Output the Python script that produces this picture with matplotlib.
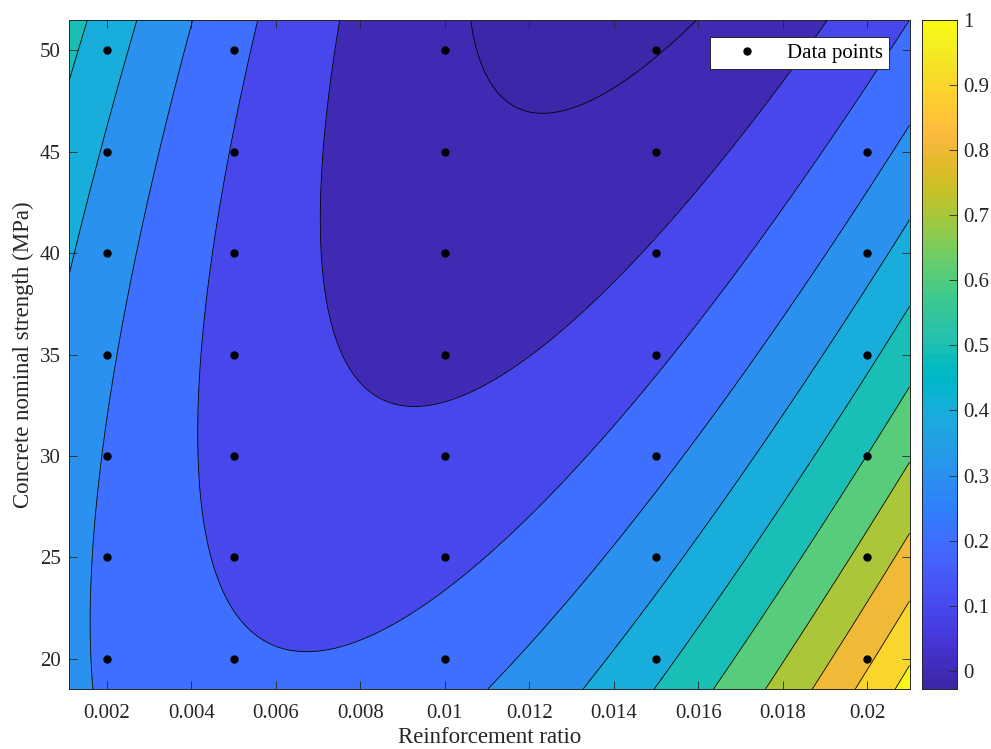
import numpy as np
import matplotlib.pyplot as plt
from matplotlib.colors import ListedColormap, Normalize

plt.rcParams['font.family'] = ['Liberation Serif', 'DejaVu Serif']

# Data: reinforcement ratio, concrete strength and response at the tested points
rho = [0.002, 0.005, 0.01, 0.015,
       0.002, 0.005, 0.01, 0.015, 0.02,
       0.002, 0.005, 0.01, 0.015, 0.02,
       0.002, 0.005, 0.01, 0.015, 0.02,
       0.002, 0.005, 0.01, 0.015, 0.02,
       0.002, 0.005, 0.01, 0.015, 0.02,
       0.002, 0.005, 0.01, 0.015, 0.02]
fc = [50, 50, 50, 50,
      45, 45, 45, 45, 45,
      40, 40, 40, 40, 40,
      35, 35, 35, 35, 35,
      30, 30, 30, 30, 30,
      25, 25, 25, 25, 25,
      20, 20, 20, 20, 20]
resp = [0.441, 0.224, 0.015, -0.003,
        0.388, 0.195, 0.026, 0.048, 0.262,
        0.345, 0.176, 0.048, 0.110, 0.364,
        0.314, 0.169, 0.081, 0.183, 0.477,
        0.294, 0.173, 0.125, 0.268, 0.602,
        0.284, 0.188, 0.180, 0.363, 0.737,
        0.286, 0.213, 0.246, 0.469, 0.883]

cbar_ticks = [0, 0.1, 0.2, 0.3, 0.4, 0.5, 0.6, 0.7, 0.8, 0.9, 1]
xticks = [0.002, 0.004, 0.006, 0.008, 0.01, 0.012, 0.014, 0.016, 0.018, 0.02]
yticks = [20, 25, 30, 35, 40, 45, 50]

# parula colormap (MATLAB)
parula = np.array([
[0.2422,0.1504,0.6603],[0.2504,0.1650,0.7076],[0.2578,0.1818,0.7511],[0.2647,0.1978,0.7952],
[0.2706,0.2147,0.8364],[0.2751,0.2342,0.8710],[0.2783,0.2559,0.8991],[0.2803,0.2782,0.9221],
[0.2813,0.3006,0.9414],[0.2810,0.3228,0.9579],[0.2795,0.3447,0.9717],[0.2760,0.3667,0.9829],
[0.2699,0.3892,0.9906],[0.2602,0.4123,0.9952],[0.2440,0.4358,0.9988],[0.2206,0.4603,0.9973],
[0.1963,0.4847,0.9892],[0.1834,0.5074,0.9798],[0.1786,0.5289,0.9682],[0.1764,0.5499,0.9520],
[0.1687,0.5703,0.9359],[0.1540,0.5902,0.9218],[0.1460,0.6091,0.9079],[0.1380,0.6276,0.8973],
[0.1248,0.6459,0.8883],[0.1113,0.6635,0.8763],[0.0952,0.6798,0.8598],[0.0689,0.6948,0.8394],
[0.0297,0.7082,0.8163],[0.0036,0.7203,0.7917],[0.0067,0.7312,0.7660],[0.0433,0.7411,0.7394],
[0.0964,0.7500,0.7120],[0.1408,0.7584,0.6842],[0.1717,0.7670,0.6554],[0.1938,0.7758,0.6251],
[0.2161,0.7843,0.5923],[0.2470,0.7918,0.5567],[0.2906,0.7973,0.5188],[0.3406,0.8008,0.4789],
[0.3909,0.8029,0.4354],[0.4456,0.8024,0.3909],[0.5044,0.7993,0.3480],[0.5616,0.7942,0.3045],
[0.6174,0.7876,0.2612],[0.6720,0.7793,0.2227],[0.7242,0.7698,0.1910],[0.7738,0.7598,0.1646],
[0.8203,0.7498,0.1535],[0.8634,0.7406,0.1596],[0.9035,0.7330,0.1774],[0.9393,0.7288,0.2100],
[0.9728,0.7298,0.2394],[0.9956,0.7434,0.2371],[0.9970,0.7659,0.2199],[0.9952,0.7893,0.2028],
[0.9892,0.8136,0.1885],[0.9786,0.8386,0.1766],[0.9676,0.8639,0.1643],[0.9610,0.8890,0.1537],
[0.9597,0.9135,0.1423],[0.9628,0.9373,0.1265],[0.9691,0.9606,0.1064],[0.9769,0.9839,0.0805]])
cmap = ListedColormap(parula)

# poly22 response surface fit
x = np.array(rho)
y = np.array(fc)
z = np.array(resp)
A = np.column_stack([np.ones_like(x), x, y, x**2, x*y, y**2])
coef, *_ = np.linalg.lstsq(A, z, rcond=None)

xlim = (0.0011, 0.0210)
ylim = (18.5, 51.5)
gx = np.linspace(xlim[0], xlim[1], 300)
gy = np.linspace(ylim[0], ylim[1], 300)
GX, GY = np.meshgrid(gx, gy)
GZ = coef[0] + coef[1]*GX + coef[2]*GY + coef[3]*GX**2 + coef[4]*GX*GY + coef[5]*GY**2

clim = (-0.028, 1.0)
norm = Normalize(*clim)
levels = np.concatenate([[GZ.min() - 1e-9], np.arange(0, 1.01, 0.1), [GZ.max() + 1e-9]])
fill_colors = [cmap(norm(max(l, clim[0]))) for l in levels[:-1]]

fig = plt.figure(figsize=(9.91, 7.49), dpi=100)
ax = fig.add_axes([0.0696, 0.0801, 0.8482, 0.8932])
cax = fig.add_axes([0.9299, 0.0801, 0.0353, 0.8932])

ax.contourf(GX, GY, GZ, levels=levels, colors=fill_colors)
ax.contour(GX, GY, GZ, levels=np.arange(0, 1.01, 0.1), colors='k', linewidths=0.6)
ax.plot(x, y, 'k.', markersize=10, label='Data points', linestyle='none')

ax.set_xlim(*xlim)
ax.set_ylim(*ylim)
ax.set_xticks(xticks)
ax.set_xticklabels(['%g' % t for t in xticks])
ax.set_yticks(yticks)
ax.tick_params(direction='in', length=6, width=0.6, colors='#262626', labelsize=15,
               top=True, right=True)
ax.tick_params(axis='x', pad=11)
ax.tick_params(axis='y', pad=6)
for s in ax.spines.values():
    s.set_color('#262626')
    s.set_linewidth(0.7)
ax.set_xlabel('Reinforcement ratio', fontsize=16.5, color='#262626', labelpad=3)
ax.set_ylabel('Concrete nominal strength (MPa)', fontsize=16.5, color='#262626', labelpad=4)

leg = ax.legend(loc='upper right', bbox_to_anchor=(0.9756, 0.9746), borderaxespad=0,
                fontsize=15, fancybox=False, framealpha=1, edgecolor='#262626',
                handlelength=3.0, handletextpad=0.4, borderpad=0.3)
leg.get_frame().set_linewidth(0.7)

grad = np.linspace(clim[0], clim[1], 256).reshape(-1, 1)
cax.imshow(grad, aspect='auto', origin='lower', cmap=cmap, norm=norm,
           extent=[0, 1, clim[0], clim[1]])
cax.set_xticks([])
cax.yaxis.tick_right()
cax.set_yticks(cbar_ticks)
cax.set_yticklabels(['%g' % t for t in cbar_ticks])
cax.tick_params(direction='in', length=6, width=0.6, colors='#262626', labelsize=15, pad=5)
for s in cax.spines.values():
    s.set_color('#262626')
    s.set_linewidth(0.7)

fig.savefig('out.png', dpi=100)
